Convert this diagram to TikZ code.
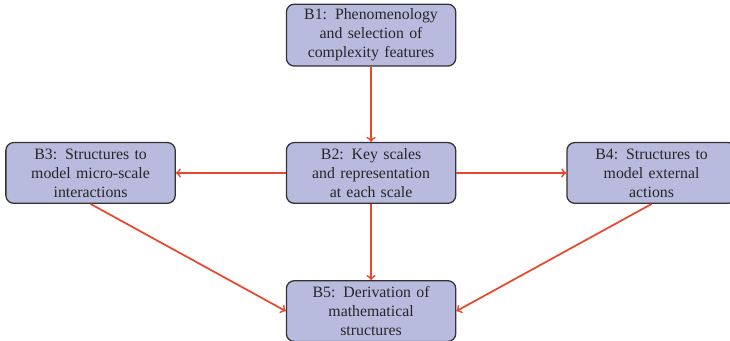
\documentclass[tikz,border=0pt]{standalone}
\usepackage{fontspec}
\setmainfont{Liberation Serif}
\usepackage{xcolor}
\usetikzlibrary{arrows.meta,positioning}
\definecolor{boxfill}{RGB}{184,187,222}
\definecolor{linkred}{RGB}{234,72,44}
\tikzset{
  blkarr/.style={-to, line width=1.1pt, draw=linkred},
  blknode/.style={draw=black!80, thick, fill=boxfill, rounded corners=5pt, align=center, inner sep=3pt},
}

\begin{document}
\begin{tikzpicture}[
  font=\normalsize,
  blk/.style={blknode, text=black!85, text width=3.55cm, minimum height=1.35cm},
]
  \useasboundingbox (-8.24,-3.71) rectangle (7.97,3.84);
  \node[blk] (b2) at (0,0) {B2: Key scales\\ and representation\\ at each scale};
  \node[blk, above=1.67cm of b2] (b1) {B1: Phenomenology\\ and selection of\\ complexity features};
  \node[blk, left=2.44cm of b2] (b3) {B3: Structures to\\ model micro-scale\\ interactions};
  \node[blk, right=2.44cm of b2] (b4) {B4: Structures to\\ model external\\ actions};
  \node[blk, below=1.69cm of b2] (b5) {B5: Derivation of\\ mathematical\\ structures};
  \draw[blkarr] (b1) -- (b2);
  \draw[blkarr] (b2) -- (b3);
  \draw[blkarr] (b2) -- (b4);
  \draw[blkarr] (b2) -- (b5);
  \draw[blkarr] (b3.south) -- (b5.west);
  \draw[blkarr] (b4.south) -- (b5.east);
\end{tikzpicture}
\end{document}
